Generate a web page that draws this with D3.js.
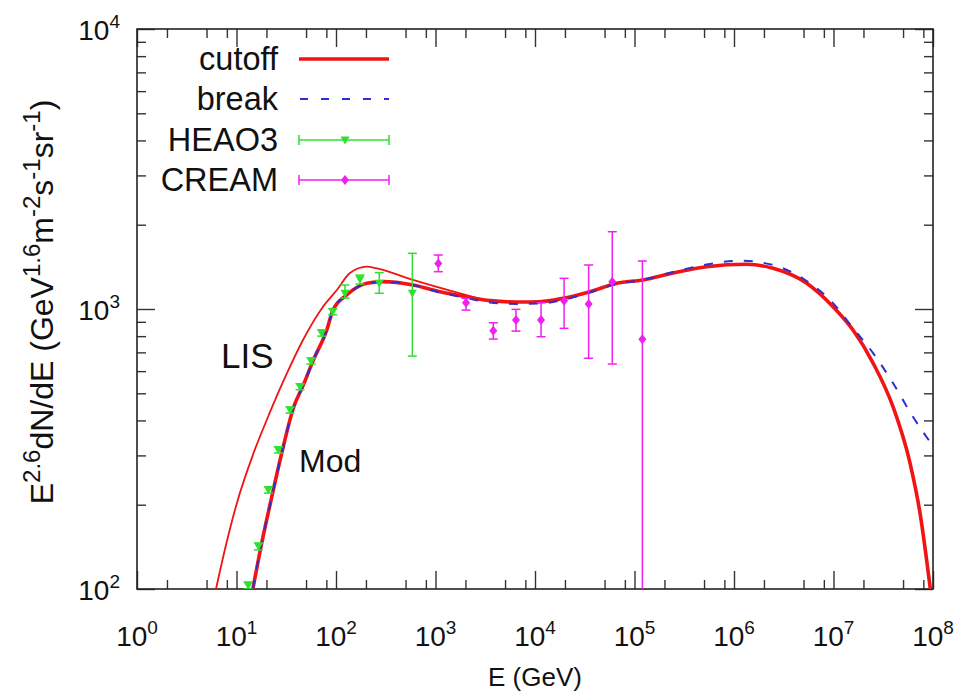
<!DOCTYPE html>
<html>
<head>
<meta charset="utf-8">
<script src="https://cdn.jsdelivr.net/npm/d3@7"></script>
<style>
  body { margin: 0; background: #fff; }
</style>
</head>
<body>
<svg></svg>
<script>
// axis ticks
const xMajor = [1e0, 1e1, 1e2, 1e3, 1e4, 1e5, 1e6, 1e7, 1e8];
const xExp = ['0', '1', '2', '3', '4', '5', '6', '7', '8'];
const xMinorMult = [2, 5, 8];
const yMajor = [1e2, 1e3, 1e4];
const yExp = ['2', '3', '4'];
const yMinorMult = [2, 3, 4, 5, 6, 7, 8, 9];

// model curves (E in GeV, E^2.6 dN/dE)
const cutoffE = [14.6, 17.9, 22.6, 29.5, 37.2, 46.9, 59.2, 80.7, 93.3, 128, 204, 297, 594, 1110, 2060, 3530, 6550, 11200, 19100, 35700, 66200, 1.22e5, 2.44e5, 5.32e5, 1.34e6, 2.47e6, 5.38e6, 9.89e6, 1.57e7, 2.50e7, 3.96e7, 5.87e7, 7.40e7, 9.40e7];
const cutoffF = [100, 145.6, 213, 322, 442, 535, 657, 841, 992, 1122, 1236, 1252, 1218, 1153, 1106, 1071, 1059, 1062, 1092, 1153, 1236, 1270, 1344, 1416, 1444, 1397, 1236, 1019, 841, 641, 448, 282, 187, 100];

const breakE = [14.6, 17.9, 22.6, 29.5, 37.2, 46.9, 59.2, 80.7, 93.3, 128, 204, 297, 594, 1110, 2060, 3530, 6550, 11200, 19100, 35700, 66200, 1.22e5, 2.44e5, 5.32e5, 1.15e6, 2.47e6, 5.38e6, 9.89e6, 1.57e7, 2.50e7, 3.96e7, 6.29e7, 1.0e8];
const breakF = [100, 145.6, 213, 322, 442, 535, 657, 841, 992, 1122, 1236, 1252, 1218, 1146, 1094, 1055, 1042, 1046, 1077, 1146, 1228, 1270, 1356, 1442, 1488, 1436, 1259, 1050, 855, 696, 544, 412, 324];

const lisE = [6.22, 7.84, 10.1, 14.6, 21.7, 31.9, 46.6, 74.0, 102, 138, 204, 257, 594, 1763, 3530, 6550, 11200];
const lisF = [100, 143.6, 203, 301, 428, 586, 775, 1019, 1169, 1344, 1416, 1397, 1270, 1138, 1071, 1059, 1062];

// data points
const heaoE = [13.1, 16.6, 20.9, 26.3, 34.5, 43.5, 56.1, 71.8, 92.7, 123, 174, 272, 585];
const heaoF = [103, 142, 226, 314, 436, 528, 652, 821, 978, 1138, 1276, 1236, 1138];
const heaoLo = [100, 138, 220, 306, 425, 515, 636, 800, 953, 1094, 1228, 1138, 679];
const heaoHi = [106, 146, 232, 322, 447, 541, 668, 842, 1003, 1218, 1322, 1349, 1581];

const creamE = [1067, 2026, 3810, 6440, 11500, 19600, 34600, 59800, 1.20e5];
const creamF = [1455, 1053, 837, 914, 914, 1071, 1042, 1252, 779];
const creamLo = [1359, 991, 781, 834, 796, 853, 667, 636, 1];
const creamHi = [1559, 1092, 893, 997, 1053, 1287, 1436, 1888, 1484];

const legendNames = ['cutoff', 'break', 'HEAO3', 'CREAM'];

const WIDTH = 977;
const HEIGHT = 692;
const LEFT = 137, RIGHT = 933, TOP = 29, BOTTOM = 589;
const FONT = '"Liberation Sans", Arial, sans-serif';

const RED = '#f01414';
const BLUE = '#2e2ed6';
const GREEN = '#2fe02f';
const MAGENTA = '#ee22ee';

const svg = d3.select('svg').
attr('width', WIDTH).
attr('height', HEIGHT).
attr('font-family', FONT);

const x = d3.scaleLog().domain([1, 1e8]).range([LEFT, RIGHT]);
const y = d3.scaleLog().domain([100, 1e4]).range([BOTTOM, TOP]);

svg.append('clipPath').attr('id', 'plot').
append('rect').
attr('x', LEFT).attr('y', TOP).
attr('width', RIGHT - LEFT).attr('height', BOTTOM - TOP);

/* --TICKS-- */
const xMinor = [];
xMajor.slice(0, -1).forEach(v => xMinorMult.forEach(m => xMinor.push(v * m)));
const yMinor = [];
yMajor.slice(0, -1).forEach(v => yMinorMult.forEach(m => yMinor.push(v * m)));

function tickAxis(axis, vals, len, transform) {
  const g = svg.append('g').
  attr('transform', transform).
  call(axis.tickValues(vals).tickSize(-len).tickFormat(''));
  g.select('.domain').remove();
  g.selectAll('line').attr('stroke', '#333').attr('stroke-width', 1.4);
}
[[xMajor, 18], [xMinor, 9]].forEach(([vals, len]) => {
  tickAxis(d3.axisBottom(x), vals, len, `translate(0,${BOTTOM})`);
  tickAxis(d3.axisTop(x), vals, len, `translate(0,${TOP})`);
});
[[yMajor, 18], [yMinor, 9]].forEach(([vals, len]) => {
  tickAxis(d3.axisLeft(y), vals, len, `translate(${LEFT},0)`);
  tickAxis(d3.axisRight(y), vals, len, `translate(${RIGHT},0)`);
});

svg.append('rect').
attr('x', LEFT).attr('y', TOP).
attr('width', RIGHT - LEFT).attr('height', BOTTOM - TOP).
attr('fill', 'none').
attr('stroke', '#222').
attr('stroke-width', 1.6);

/* --TICK LABELS-- */
xMajor.forEach((v, i) => {
  const t = svg.append('text').
  attr('x', x(v)).
  attr('y', 646).
  attr('text-anchor', 'middle').
  attr('font-size', 28).
  attr('fill', '#111');
  t.append('tspan').text('10');
  t.append('tspan').attr('dy', -12).attr('font-size', 19).text(xExp[i]);
});
yMajor.forEach((v, i) => {
  const t = svg.append('text').
  attr('x', 120).
  attr('y', y(v) + 11).
  attr('text-anchor', 'end').
  attr('font-size', 28).
  attr('fill', '#111');
  t.append('tspan').text('10');
  t.append('tspan').attr('dy', -12).attr('font-size', 19).text(yExp[i]);
});

/* --AXIS TITLES-- */
svg.append('text').
attr('x', (LEFT + RIGHT) / 2).
attr('y', 686).
attr('text-anchor', 'middle').
attr('font-size', 26).
attr('fill', '#111').
text('E (GeV)');

const yTitle = svg.append('text').
attr('transform', `translate(53,${(TOP + BOTTOM) / 2 - 7}) rotate(-90)`).
attr('text-anchor', 'middle').
attr('font-size', 32).
attr('fill', '#111');
const yParts = [['E', 0], ['2.6', 1], ['dN/dE (GeV', 0], ['1.6', 1], ['m', 0], ['-2', 1], ['s', 0], ['-1', 1], ['sr', 0], ['-1', 1], [')', 0]];
let up = false;
yParts.forEach(([s, sup]) => {
  const ts = yTitle.append('tspan').text(s);
  if (sup) {
    ts.attr('dy', -13).attr('font-size', 24);
    up = true;
  } else if (up) {
    ts.attr('dy', 13);
    up = false;
  }
});

/* --CURVES-- */
const line = d3.line().x(d => x(d[0])).y(d => y(d[1]));
const plotG = svg.append('g').attr('clip-path', 'url(#plot)');

plotG.append('path').
datum(lisE.map((e, i) => [e, lisF[i]])).
attr('d', line.curve(d3.curveMonotoneX)).
attr('fill', 'none').
attr('stroke', RED).
attr('stroke-width', 1.8);

plotG.append('path').
datum(cutoffE.map((e, i) => [e, cutoffF[i]])).
attr('d', line.curve(d3.curveMonotoneX)).
attr('fill', 'none').
attr('stroke', RED).
attr('stroke-width', 3.6);

plotG.append('path').
datum(breakE.map((e, i) => [e, breakF[i]])).
attr('d', line.curve(d3.curveMonotoneX)).
attr('fill', 'none').
attr('stroke', BLUE).
attr('stroke-width', 2).
attr('stroke-dasharray', '9,11');

/* --DATA POINTS-- */
const triDown = 'M-4.5,-3.5L4.5,-3.5L0,4.5Z';
const diamond = 'M0,-5L4,0L0,5L-4,0Z';

function errPoints(E, F, lo, hi, color, marker) {
  const g = plotG.append('g').attr('stroke', color).attr('stroke-width', 1.5);
  E.forEach((e, i) => {
    const px = x(e);
    g.append('line').
    attr('x1', px).attr('x2', px).
    attr('y1', y(lo[i])).attr('y2', y(hi[i]));
    [lo[i], hi[i]].forEach(v => {
      g.append('line').
      attr('x1', px - 4.5).attr('x2', px + 4.5).
      attr('y1', y(v)).attr('y2', y(v));
    });
    g.append('path').
    attr('d', marker).
    attr('transform', `translate(${px},${y(F[i])})`).
    attr('fill', color).
    attr('stroke', 'none');
  });
}
errPoints(heaoE, heaoF, heaoLo, heaoHi, GREEN, triDown);
errPoints(creamE, creamF, creamLo, creamHi, MAGENTA, diamond);

/* --CURVE LABELS-- */
svg.append('text').attr('x', 221).attr('y', 368).
attr('font-size', 35).attr('fill', '#111').text('LIS');
svg.append('text').attr('x', 299).attr('y', 472).
attr('font-size', 32).attr('fill', '#111').text('Mod');

/* --LEGEND-- */
const legendY = [59, 99, 140, 180];
const legendG = svg.append('g');
legendNames.forEach((name, i) => {
  legendG.append('text').
  attr('x', 278).
  attr('y', legendY[i] + 11).
  attr('text-anchor', 'end').
  attr('font-size', 32.5).
  attr('fill', '#111').
  text(name);
});
legendG.append('line').
attr('x1', 299).attr('x2', 389).
attr('y1', legendY[0]).attr('y2', legendY[0]).
attr('stroke', RED).attr('stroke-width', 3.6);
legendG.append('line').
attr('x1', 300).attr('x2', 389).
attr('y1', legendY[1]).attr('y2', legendY[1]).
attr('stroke', BLUE).attr('stroke-width', 2).
attr('stroke-dasharray', '8,13');
[[GREEN, triDown, legendY[2]], [MAGENTA, diamond, legendY[3]]].forEach(([color, marker, ly]) => {
  const g = legendG.append('g').attr('stroke', color).attr('stroke-width', 1.5);
  g.append('line').attr('x1', 299).attr('x2', 389).attr('y1', ly).attr('y2', ly);
  [299, 389].forEach(cx => {
    g.append('line').attr('x1', cx).attr('x2', cx).attr('y1', ly - 5).attr('y2', ly + 5);
  });
  g.append('path').attr('d', marker).
  attr('transform', `translate(345,${ly})`).
  attr('fill', color).attr('stroke', 'none');
});
</script>
</body>
</html>
